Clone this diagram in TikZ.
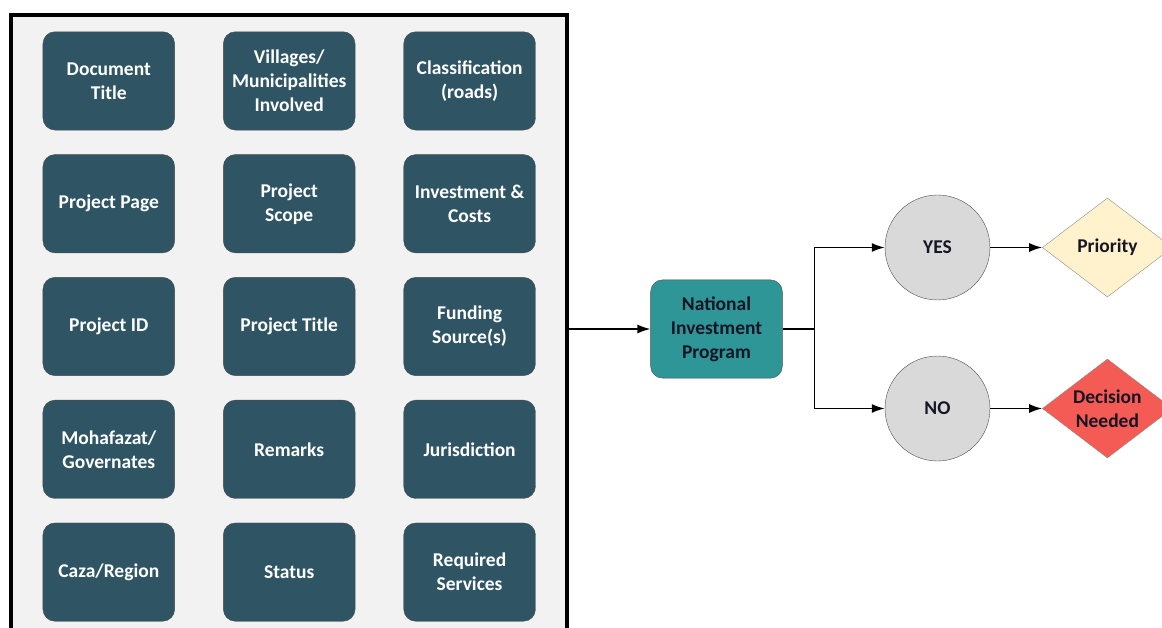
\documentclass[tikz,border=0pt]{standalone}
\usepackage{fontspec}
\setmainfont{Carlito}
\usepackage{xcolor}
\usetikzlibrary{matrix,
	calc,
	positioning,
	shapes,
	arrows.meta}
\definecolor{cellblue}{HTML}{2F5565}
\definecolor{nipteal}{HTML}{2E9696}
\definecolor{ansgrey}{HTML}{D9D9D9}
\definecolor{prioyel}{HTML}{FFF2CC}
\definecolor{decred}{HTML}{F55B55}
\definecolor{panelgrey}{HTML}{F2F2F2}
\definecolor{txtdark}{HTML}{151525}
\tikzstyle{lbl}=[font=\bfseries\fontsize{19.5}{24}\selectfont, align=center]
\tikzstyle{cell}=[lbl, draw=black!70, fill=cellblue, text=white, rounded corners=12pt,
		minimum width=131.7pt, minimum height=98.3pt, inner sep=0]
\tikzstyle{se}=[column sep=48.3pt, row sep=24.1pt, inner sep=0pt, ampersand
		replacement=\&]
\tikzstyle{panel}=[draw, line width=4pt, fill=panelgrey, minimum width=555.4pt,
		minimum height=628pt, inner sep=0]
\tikzstyle{nip}=[lbl, draw=black!70, fill=nipteal, text=txtdark, rounded corners=12pt,
		minimum width=131.7pt, minimum height=98.3pt, inner sep=0]
\tikzstyle{ans}=[lbl, circle, draw=black!70, fill=ansgrey, text=txtdark,
		minimum size=105pt, inner sep=0]
\tikzstyle{dec}=[lbl, diamond, aspect=1.31, draw=black!45, text=txtdark,
		minimum width=130pt, minimum height=99pt, inner sep=0]
\tikzstyle{arr}=[line width=1.6pt, -{Latex[length=13pt,width=9pt]}]

\begin{document}
\begin{tikzpicture}[x=1pt, y=-1pt]
	\useasboundingbox (0,0) rectangle (1162,628);
	\node[panel] (frame) at (289,329) {};
	\matrix (grid) [se] at (289.2,326.5) {
		\node[cell] (doc) {Document\\Title}; \& \node[cell] (vil) {Villages/\\Municipalities\\Involved}; \& \node[cell] (cls) {Classification\\(roads)}; \\
		\node[cell] (page) {Project Page}; \& \node[cell] (scope) {Project\\Scope}; \& \node[cell] (inv) {Investment \symbol{38}\\Costs}; \\
		\node[cell] (pid) {Project ID}; \& \node[cell] (ptitle) {Project Title}; \& \node[cell] (fund) {Funding\\Source(s)}; \\
		\node[cell] (moh) {Mohafazat/\\Governates}; \& \node[cell] (rem) {Remarks}; \& \node[cell] (jur) {Jurisdiction}; \\
		\node[cell] (caza) {Caza/Region}; \& \node[cell] (stat) {Status}; \& \node[cell] (req) {Required\\Services}; \\
	};
	\node[nip] (prog) at (716.5,329) {National\\Investment\\Program};
	\node[ans] (yes) at (937.5,247.5) {YES};
	\node[ans] (no) at (937.5,408.5) {NO};
	\node[dec, fill=prioyel, right=52pt of yes] (prio) {Priority};
	\node[dec, fill=decred, right=52pt of no] (need) {Decision\\Needed};
	\coordinate (split) at (814.3,329);
	% connectors
	\draw[arr] (frame.east) -- (prog.west);
	\draw[line width=1.6pt] (prog.east) -- (split);
	\draw[arr] (split) |- (yes.west);
	\draw[arr] (split) |- (no.west);
	\draw[arr] (yes) -- (prio);
	\draw[arr] (no) -- (need);
\end{tikzpicture}
\end{document}
